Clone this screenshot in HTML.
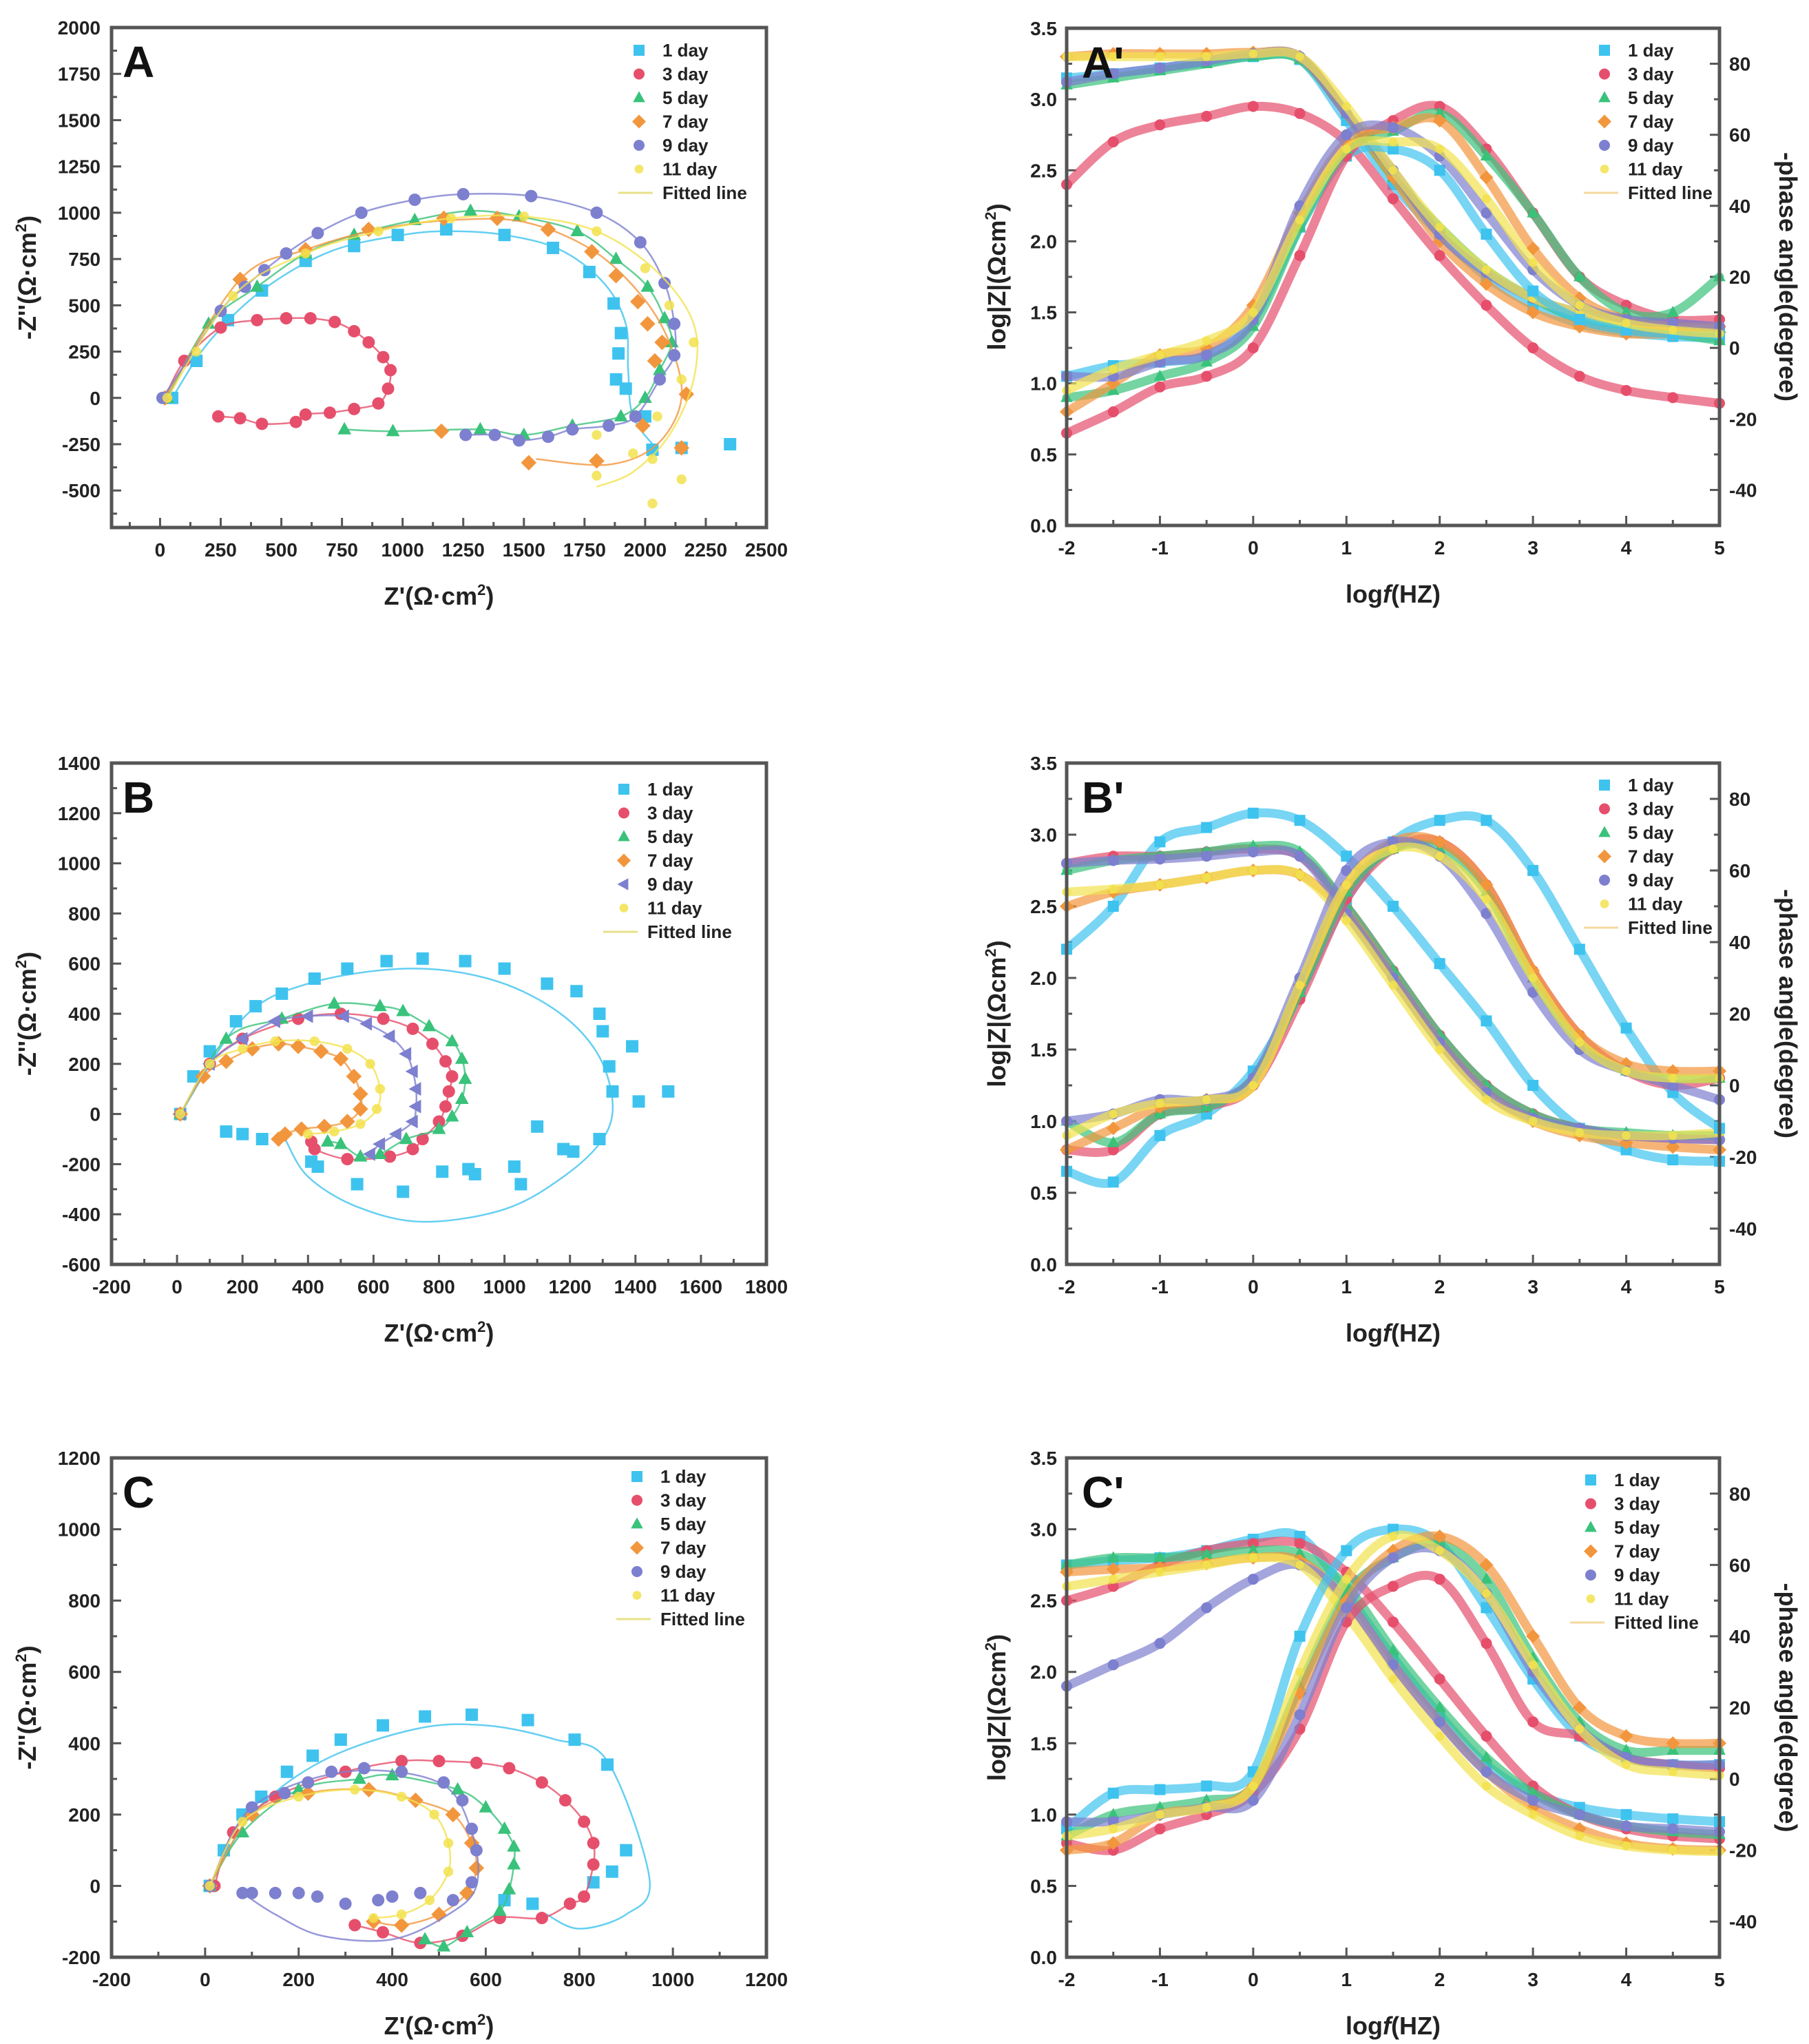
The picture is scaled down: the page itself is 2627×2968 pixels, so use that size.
<!DOCTYPE html>
<html><head><meta charset="utf-8"><style>
html,body{margin:0;padding:0;background:#fff}
svg{display:block}
text{font-family:"Liberation Sans",Arial,sans-serif}
</style></head><body>
<svg id="fig" xmlns="http://www.w3.org/2000/svg" width="2627" height="2968" viewBox="0 0 2627 2968"></svg>
<script>
// ---------- Nyquist data (Z', -Z'') ----------
const A_1d=[[50,0],[150,200],[280,420],[420,580],[600,740],[800,820],[980,880],[1180,910],[1420,880],[1620,810],[1770,680],[1870,510],[1900,350],[1890,240],[1880,100],[1920,50],[2000,-100],[2030,-280],[2150,-270],[2350,-250]];
const A_3d=[[20,0],[100,200],[250,380],[400,420],[520,430],[620,430],[720,410],[800,360],[860,300],[920,220],[950,150],[940,50],[900,-30],[800,-60],[700,-80],[600,-90],[560,-130],[420,-140],[330,-110],[240,-100]];
const A_5d=[[30,0],[200,400],[400,600],[600,780],[800,880],[1050,960],[1280,1010],[1480,980],[1720,900],[1880,750],[2010,600],[2080,430],[2110,300],[2060,150],[2000,0],[1900,-100],[1700,-150],[1500,-200],[1320,-170],[960,-180],[760,-170]];
const A_7d=[[20,0],[330,640],[600,800],[860,910],[1170,970],[1390,970],[1600,910],[1780,790],[1880,660],[1970,520],[2010,400],[2070,300],[2040,200],[2170,20],[2150,-270],[1990,-150],[1800,-340],[1520,-350],[1160,-180]];
const A_9d=[[10,0],[250,470],[350,600],[430,690],[520,780],[650,890],[830,1000],[1050,1070],[1250,1100],[1530,1090],[1800,1000],[1980,840],[2080,620],[2120,400],[2120,230],[2060,100],[1960,-100],[1850,-150],[1700,-170],[1600,-210],[1480,-230],[1380,-200],[1260,-200]];
const A_11d=[[30,0],[150,250],[300,550],[600,780],[900,900],[1200,970],[1500,980],[1800,900],[2000,700],[2100,500],[2200,300],[2150,100],[2050,-100],[1950,-300],[1800,-420],[1800,-200],[2030,-330],[2150,-440],[2030,-570]];
const A_1d_fit=[[50,0],[200,300],[420,580],[700,790],[1000,880],[1200,900],[1420,880],[1650,800],[1830,620],[1920,400],[1930,150],[1950,-100],[2050,-280]];
const A_7d_fit=[[20,0],[330,640],[600,800],[900,910],[1200,960],[1500,950],[1780,800],[1980,560],[2100,300],[2150,0],[2050,-250],[1850,-360],[1550,-330]];
const A_11d_fit=[[30,0],[300,550],[600,780],[900,900],[1200,970],[1500,980],[1800,900],[2050,680],[2200,400],[2200,100],[2100,-200],[1950,-400],[1800,-480]];

const B_1d=[[10,0],[50,150],[100,250],[180,370],[240,430],[320,480],[420,540],[520,580],[640,610],[750,620],[880,610],[1000,580],[1130,520],[1220,490],[1290,400],[1300,330],[1320,190],[1330,90],[1410,50],[1500,90],[1390,270],[1290,-100],[1210,-150],[1180,-140],[1100,-50],[1030,-210],[1050,-280],[910,-240],[890,-220],[810,-230],[690,-310],[550,-280],[430,-210],[410,-190],[260,-100],[200,-80],[150,-70]];
const B_1d_fit=[[10,0],[200,380],[400,520],[700,580],[950,540],[1150,420],[1280,250],[1330,50],[1300,-100],[1180,-250],[1000,-380],[750,-430],[550,-370],[400,-250],[330,-100]];
const B_3d=[[10,0],[100,200],[200,300],[370,380],[500,400],[630,380],[720,340],[780,280],[820,210],[840,150],[830,90],[820,30],[800,-30],[750,-100],[720,-140],[650,-170],[520,-180],[420,-140],[410,-110]];
const B_5d=[[10,0],[150,300],[320,380],[480,440],[620,430],[690,410],[770,350],[840,290],[870,220],[880,140],[870,60],[840,-10],[800,-60],[700,-100],[620,-160],[560,-170],[500,-120],[460,-110]];
const B_7d=[[10,0],[80,150],[150,210],[230,260],[310,280],[370,270],[440,250],[500,220],[540,150],[560,80],[560,20],[520,-30],[450,-50],[380,-60],[330,-80],[310,-100]];
const B_9d=[[10,0],[100,200],[200,300],[300,370],[400,390],[510,390],[580,360],[650,310],[700,240],[720,170],[730,100],[730,30],[720,-30],[670,-80],[620,-120],[590,-160]];
const B_11d=[[10,0],[100,200],[200,260],[300,290],[420,290],[520,260],[590,200],[620,100],[610,20],[560,-40],[480,-70],[400,-80]];

const C_1d=[[10,0],[40,100],[80,200],[120,250],[175,320],[230,365],[290,410],[380,450],[470,475],[570,480],[690,465],[790,410],[860,340],[900,100],[870,40],[830,10],[700,-50],[640,-40]];
const C_1d_fit=[[10,0],[100,200],[250,350],[450,440],[600,450],[750,410],[860,350],[950,20],[900,-80],[800,-120],[730,-80]];
const C_3d=[[20,0],[60,150],[150,250],[300,320],[420,350],[500,350],[580,345],[650,330],[720,290],[770,240],[810,180],[830,120],[830,60],[810,-30],[780,-50],[720,-90],[630,-90],[550,-140],[460,-160],[380,-130],[320,-110]];
const C_5d=[[10,0],[80,150],[200,270],[330,300],[400,310],[540,270],[600,220],[640,160],[660,110],[660,60],[650,-10],[630,-70],[560,-130],[510,-170],[470,-150]];
const C_7d=[[10,0],[100,200],[220,260],[350,270],[450,240],[530,200],[570,120],[580,50],[560,-20],[500,-80],[420,-110],[360,-100]];
const C_9d=[[10,0],[100,220],[170,260],[220,290],[270,320],[340,330],[420,320],[510,290],[550,240],[570,160],[580,100],[570,10],[530,-40],[460,-20],[400,-30],[370,-40],[300,-50],[240,-30],[200,-20],[150,-20],[100,-20],[80,-20]];
const C_9d_fit=[[10,0],[100,220],[300,320],[500,290],[570,150],[580,0],[520,-80],[400,-150],[250,-140],[150,-80],[80,-20]];
const C_11d=[[10,0],[80,180],[200,250],[320,270],[420,250],[490,200],[520,120],[520,40],[480,-40],[420,-80],[360,-90]];

// ---------- Bode data ----------
const logF=[-2,-1.5,-1,-0.5,0,0.5,1,1.5,2,2.5,3,3.5,4,4.5,5];
const Ap_mag_1d=[3.15,3.18,3.22,3.26,3.3,3.28,2.85,2.4,2.05,1.75,1.55,1.42,1.36,1.33,1.32];
const Ap_mag_3d=[2.4,2.7,2.82,2.88,2.95,2.9,2.7,2.3,1.9,1.55,1.25,1.05,0.95,0.9,0.86];
const Ap_mag_5d=[3.1,3.15,3.2,3.25,3.3,3.28,2.9,2.45,2.1,1.8,1.6,1.45,1.38,1.35,1.3];
const Ap_mag_7d=[3.3,3.32,3.32,3.32,3.33,3.3,2.9,2.45,2.0,1.7,1.5,1.4,1.35,1.35,1.36];
const Ap_mag_9d=[3.12,3.18,3.22,3.27,3.32,3.3,2.9,2.5,2.05,1.78,1.6,1.5,1.45,1.42,1.4];
const Ap_mag_11d=[3.3,3.3,3.3,3.3,3.32,3.3,2.95,2.5,2.1,1.8,1.6,1.5,1.42,1.4,1.38];
const Ap_ph_1d=[-8,-5,-4,-2,8,34,54,56,50,32,16,8,5,4,4];
const Ap_ph_3d=[-24,-18,-11,-8,0,26,54,64,68,56,38,20,12,8,8];
const Ap_ph_5d=[-14,-12,-8,-4,6,34,56,61,66,54,38,20,10,10,20];
const Ap_ph_7d=[-18,-10,-2,0,12,38,58,62,64,48,28,14,8,6,6];
const Ap_ph_9d=[-8,-8,-4,-2,8,40,60,62,54,38,22,12,8,7,6];
const Ap_ph_11d=[-12,-6,-2,2,10,36,56,58,56,42,24,12,7,5,4];

const Bp_mag_1d=[2.2,2.5,2.95,3.05,3.15,3.1,2.85,2.5,2.1,1.7,1.25,0.95,0.8,0.73,0.72];
const Bp_mag_3d=[2.8,2.85,2.85,2.88,2.9,2.85,2.5,2.05,1.6,1.25,1.05,0.95,0.9,0.88,0.87];
const Bp_mag_5d=[2.75,2.82,2.85,2.88,2.92,2.88,2.5,2.05,1.6,1.25,1.05,0.95,0.92,0.9,0.9];
const Bp_mag_7d=[2.5,2.6,2.65,2.7,2.75,2.72,2.45,2.0,1.55,1.2,1.0,0.9,0.85,0.82,0.8];
const Bp_mag_9d=[2.8,2.82,2.83,2.85,2.88,2.85,2.45,2.0,1.55,1.2,1.02,0.95,0.9,0.88,0.87];
const Bp_mag_11d=[2.6,2.62,2.65,2.7,2.75,2.72,2.4,1.95,1.5,1.15,1.0,0.92,0.9,0.9,0.92];
const Bp_ph_1d=[-24,-27,-14,-8,4,26,52,68,74,74,60,38,16,-2,-12];
const Bp_ph_3d=[-18,-18,-8,-6,0,24,52,66,68,56,32,14,4,0,2];
const Bp_ph_5d=[-10,-16,-8,-6,2,26,54,66,66,54,30,12,4,2,2];
const Bp_ph_7d=[-18,-12,-6,-4,0,28,56,68,68,56,32,14,6,4,4];
const Bp_ph_9d=[-10,-8,-4,-4,2,30,60,68,64,48,26,10,4,0,-4];
const Bp_ph_11d=[-14,-8,-5,-4,0,28,56,66,64,52,30,12,4,2,2];

const Cp_mag_1d=[2.75,2.78,2.8,2.85,2.93,2.95,2.55,2.1,1.7,1.35,1.15,1.05,1.0,0.97,0.95];
const Cp_mag_3d=[2.5,2.6,2.75,2.85,2.9,2.9,2.7,2.35,1.95,1.55,1.2,1.0,0.9,0.85,0.83];
const Cp_mag_5d=[2.75,2.8,2.8,2.82,2.85,2.83,2.6,2.15,1.75,1.4,1.15,1.0,0.92,0.88,0.86];
const Cp_mag_7d=[2.7,2.72,2.73,2.76,2.8,2.78,2.5,2.05,1.65,1.3,1.05,0.9,0.8,0.76,0.75];
const Cp_mag_9d=[1.9,2.05,2.2,2.45,2.65,2.75,2.5,2.05,1.65,1.3,1.1,1.0,0.92,0.9,0.88];
const Cp_mag_11d=[2.6,2.65,2.7,2.75,2.8,2.75,2.4,1.95,1.55,1.2,1.0,0.85,0.78,0.75,0.74];
const Cp_ph_1d=[-14,-4,-3,-2,2,40,64,70,66,48,28,12,6,4,4];
const Cp_ph_3d=[-18,-20,-14,-10,-4,14,44,54,56,38,16,12,6,4,3];
const Cp_ph_5d=[-16,-10,-8,-6,-2,26,52,62,66,56,34,16,8,8,8];
const Cp_ph_7d=[-20,-18,-10,-8,-2,24,50,64,68,60,40,20,12,10,10];
const Cp_ph_9d=[-12,-12,-10,-8,-6,18,48,62,64,52,30,14,6,4,4];
const Cp_ph_11d=[-16,-14,-10,-8,-2,30,56,68,64,52,32,14,4,2,1];

const legendLabels=["1 day","3 day","5 day","7 day","9 day","11 day","Fitted line"];
const nyqXTicksA=[0,250,500,750,1000,1250,1500,1750,2000,2250,2500];
const nyqYTicksA=[-500,-250,0,250,500,750,1000,1250,1500,1750,2000];
const nyqXTicksB=[-200,0,200,400,600,800,1000,1200,1400,1600,1800];
const nyqYTicksB=[-600,-400,-200,0,200,400,600,800,1000,1200,1400];
const nyqXTicksC=[-200,0,200,400,600,800,1000,1200];
const nyqYTicksC=[-200,0,200,400,600,800,1000,1200];
const bodeXTicks=[-2,-1,0,1,2,3,4,5];
const bodeYTicks=[0,0.5,1,1.5,2,2.5,3,3.5];
const bodePhTicks=[-40,-20,0,20,40,60,80];

// ---------- rendering ----------
const NS="http://www.w3.org/2000/svg";
const svg=document.getElementById('fig');
const COLORS=["#3ec3ef","#e64f6c","#39c27a","#f2963d","#7d7fcf","#f2e24e"];
function el(tag,attrs,parent){const e=document.createElementNS(NS,tag);for(const k in attrs)e.setAttribute(k,attrs[k]);(parent||svg).appendChild(e);return e;}
function marker(g,shape,x,y,r,c){
  let m;
  if(shape==="square")m=el('rect',{x:x-r,y:y-r,width:2*r,height:2*r,fill:c},g);
  else if(shape==="circle")m=el('circle',{cx:x,cy:y,r:r,fill:c},g);
  else if(shape==="triangle")m=el('polygon',{points:`${x},${y-r*1.2} ${x-r*1.1},${y+r*0.8} ${x+r*1.1},${y+r*0.8}`,fill:c},g);
  else if(shape==="diamond")m=el('polygon',{points:`${x},${y-r*1.25} ${x+r*1.25},${y} ${x},${y+r*1.25} ${x-r*1.25},${y}`,fill:c},g);
  else if(shape==="tleft")m=el('polygon',{points:`${x-r*1.2},${y} ${x+r*0.8},${y-r*1.1} ${x+r*0.8},${y+r*1.1}`,fill:c},g);
  else m=el('circle',{cx:x,cy:y,r:r*0.8,fill:c,opacity:0.85},g);
  
  
  return m;
}
function txt(x,y,s,opt,parent){const t=el('text',Object.assign({x:x,y:y,'font-size':28,'font-weight':'bold',fill:'#222'},opt||{}),parent);t.textContent=s;return t;}
// smooth Catmull-Rom path through screen points
function smoothD(pts,sx,sy){
  const P=pts.map(p=>[sx(p[0]),sy(p[1])]);
  let d='M'+P[0][0].toFixed(1)+','+P[0][1].toFixed(1);
  for(let i=0;i<P.length-1;i++){
    const p0=P[Math.max(0,i-1)],p1=P[i],p2=P[i+1],p3=P[Math.min(P.length-1,i+2)];
    const c1=[p1[0]+(p2[0]-p0[0])/6,p1[1]+(p2[1]-p0[1])/6];
    const c2=[p2[0]-(p3[0]-p1[0])/6,p2[1]-(p3[1]-p1[1])/6];
    d+=` C${c1[0].toFixed(1)},${c1[1].toFixed(1)} ${c2[0].toFixed(1)},${c2[1].toFixed(1)} ${p2[0].toFixed(1)},${p2[1].toFixed(1)}`;
  }
  return d;
}

function frame(g,L,T,R,B){
  const f=el('rect',{x:L,y:T,width:R-L,height:B-T,fill:'none',stroke:'#555',"stroke-width":5},g);
  
  
}

function legend(g,x,y,shapes,lineColor){
  const lg=el('g',{},g);
  
  
  for(let i=0;i<7;i++){
    const yy=y+i*34.5;
    if(i<6)marker(lg,shapes[i],x,yy,8,COLORS[i]);
    else el('line',{x1:x-30,y1:yy,x2:x+20,y2:yy,stroke:lineColor,"stroke-width":3},lg);
    const t=txt(x+34,yy+9,legendLabels[i],{'font-size':26},lg);
    
    
  }
}

function nyquist(cfg){
  const g=el('g',{});
  
  
  const {L,T,R,B,xmin,xmax,ymin,ymax}=cfg;
  const sx=v=>L+(v-xmin)/(xmax-xmin)*(R-L);
  const sy=v=>B-(v-ymin)/(ymax-ymin)*(B-T);
  const xs=cfg.xt, ys=cfg.yt, xstep=xs[1]-xs[0], ystep=ys[1]-ys[0];
  xs.forEach(v=>{
    el('line',{x1:sx(v),y1:B,x2:sx(v),y2:B-14,stroke:'#555',"stroke-width":3},g);
    if(v+xstep/2<xmax)el('line',{x1:sx(v+xstep/2),y1:B,x2:sx(v+xstep/2),y2:B-8,stroke:'#555',"stroke-width":3},g);
    const t=txt(sx(v),B+42,String(v),{'text-anchor':'middle'},g);
    
  });
  if(xs[0]-xstep/2>xmin)el('line',{x1:sx(xs[0]-xstep/2),y1:B,x2:sx(xs[0]-xstep/2),y2:B-8,stroke:'#555',"stroke-width":3},g);
  ys.forEach(v=>{
    el('line',{x1:L,y1:sy(v),x2:L+14,y2:sy(v),stroke:'#555',"stroke-width":3},g);
    if(v+ystep/2<ymax)el('line',{x1:L,y1:sy(v+ystep/2),x2:L+8,y2:sy(v+ystep/2),stroke:'#555',"stroke-width":3},g);
    const t=txt(L-16,sy(v)+10,String(v),{'text-anchor':'end'},g);
    
  });
  if(ys[0]-ystep/2>ymin)el('line',{x1:L,y1:sy(ys[0]-ystep/2),x2:L+8,y2:sy(ys[0]-ystep/2),stroke:'#555',"stroke-width":3},g);
  cfg.series.forEach((s,i)=>{
    const sg=el('g',{},g);
    
    
    const fit=(cfg.fits&&cfg.fits[i])||s;
    el('path',{d:smoothD(fit,sx,sy),fill:'none',stroke:COLORS[i],"stroke-width":2.5,opacity:0.8},sg);
    s.forEach(p=>marker(sg,cfg.shapes[i],sx(p[0]),sy(p[1]),9,COLORS[i]));
  });
  frame(g,L,T,R,B);
  legend(g,cfg.legX,cfg.legY,cfg.shapes,'#e8e08a');
  const pl=el('text',{x:L+16,y:T+72,'font-size':64,'font-weight':'bold','font-family':'"Liberation Serif",serif',fill:'#111'},g);
  pl.textContent=cfg.letter;
  
  const xt=el('text',{x:(L+R)/2,y:B+112,'font-size':36,'font-weight':'bold','text-anchor':'middle',fill:'#222'},g);
  xt.innerHTML='Z\'(Ω·cm<tspan dy="-14" font-size="22">2</tspan><tspan dy="14">)</tspan>';
  
  const yt=el('text',{x:0,y:0,transform:`translate(52,${(T+B)/2}) rotate(-90)`,'font-size':36,'font-weight':'bold','text-anchor':'middle',fill:'#222'},g);
  yt.innerHTML='-Z\'\'(Ω·cm<tspan dy="-14" font-size="22">2</tspan><tspan dy="14">)</tspan>';
  
}

function bode(cfg){
  const g=el('g',{});
  
  
  const L=1549,R=2497,T=cfg.T,B=cfg.B;
  const sx=v=>L+(v+2)/7*(R-L);
  const sy=v=>B-v/3.5*(B-T);
  const sp=v=>B-(v+50)/140*(B-T);
  bodeXTicks.forEach(v=>{
    el('line',{x1:sx(v),y1:B,x2:sx(v),y2:B-14,stroke:'#555',"stroke-width":3},g);
    if(v<5)el('line',{x1:sx(v+0.5),y1:B,x2:sx(v+0.5),y2:B-8,stroke:'#555',"stroke-width":3},g);
    const t=txt(sx(v),B+42,String(v),{'text-anchor':'middle'},g);
    
  });
  bodeYTicks.forEach(v=>{
    el('line',{x1:L,y1:sy(v),x2:L+14,y2:sy(v),stroke:'#555',"stroke-width":3},g);
    if(v<3.5)el('line',{x1:L,y1:sy(v+0.25),x2:L+8,y2:sy(v+0.25),stroke:'#555',"stroke-width":3},g);
    const t=txt(L-14,sy(v)+10,v.toFixed(1),{'text-anchor':'end'},g);
    
  });
  bodePhTicks.forEach(v=>{
    el('line',{x1:R,y1:sp(v),x2:R-14,y2:sp(v),stroke:'#555',"stroke-width":3},g);
    el('line',{x1:R,y1:sp(v+10),x2:R-8,y2:sp(v+10),stroke:'#555',"stroke-width":3},g);
    const t=txt(R+14,sp(v)+10,String(v),{'text-anchor':'start'},g);
    
  });
  const drawSet=(set,scaleY,kind)=>set.forEach((arr,i)=>{
    const sg=el('g',{},g);
    
    
    const pts=logF.map((f,j)=>[f,arr[j]]);
    el('path',{d:smoothD(pts,sx,scaleY),fill:'none',stroke:COLORS[i],"stroke-width":13,opacity:0.7,"stroke-linecap":"round"},sg);
    pts.forEach(p=>marker(sg,cfg.shapes[i],sx(p[0]),scaleY(p[1]),8,COLORS[i]));
  });
  drawSet(cfg.mag,sy,'mag');
  drawSet(cfg.ph,sp,'phase');
  frame(g,L,T,R,B);
  legend(g,cfg.legX,T+32,cfg.shapes,'#f3d9a0');
  const pl=el('text',{x:L+22,y:T+72,'font-size':64,'font-weight':'bold','font-family':'"Liberation Serif",serif',fill:'#111'},g);
  pl.textContent=cfg.letter;
  
  const xt=el('text',{x:(L+R)/2,y:B+112,'font-size':36,'font-weight':'bold','text-anchor':'middle',fill:'#222'},g);
  xt.innerHTML='log<tspan font-style="italic">f</tspan>(HZ)';
  
  const yt=el('text',{x:0,y:0,transform:`translate(1460,${(T+B)/2}) rotate(-90)`,'font-size':36,'font-weight':'bold','text-anchor':'middle',fill:'#222'},g);
  yt.innerHTML='log|Z|(Ωcm<tspan dy="-14" font-size="22">2</tspan><tspan dy="14">)</tspan>';
  
  const rt=el('text',{x:0,y:0,transform:`translate(2584,${(T+B)/2}) rotate(90)`,'font-size':36,'font-weight':'bold','text-anchor':'middle',fill:'#222'},g);
  rt.textContent='-phase angle(degree)';
  
}

const shp=["square","circle","triangle","diamond","circle","star"];
const shpB=["square","circle","triangle","diamond","tleft","star"];
nyquist({name:'panel-A-nyquist',letter:'A',L:162,T:40,R:1113,B:766,xmin:-200,xmax:2500,ymin:-700,ymax:2000,xt:nyqXTicksA,yt:nyqYTicksA,
  series:[A_1d,A_3d,A_5d,A_7d,A_9d,A_11d],fits:[A_1d_fit,null,null,A_7d_fit,null,A_11d_fit],shapes:shp,legX:928,legY:73});
nyquist({name:'panel-B-nyquist',letter:'B',L:162,T:1108,R:1113,B:1836,xmin:-200,xmax:1800,ymin:-600,ymax:1400,xt:nyqXTicksB,yt:nyqYTicksB,
  series:[B_1d,B_3d,B_5d,B_7d,B_9d,B_11d],fits:[B_1d_fit],shapes:shpB,legX:906,legY:1146});
nyquist({name:'panel-C-nyquist',letter:'C',L:162,T:2117,R:1113,B:2842,xmin:-200,xmax:1200,ymin:-200,ymax:1200,xt:nyqXTicksC,yt:nyqYTicksC,
  series:[C_1d,C_3d,C_5d,C_7d,C_9d,C_11d],fits:[C_1d_fit,null,null,null,C_9d_fit],shapes:shp,legX:925,legY:2144});
bode({name:'panel-A-bode',letter:"A'",T:41,B:763,mag:[Ap_mag_1d,Ap_mag_3d,Ap_mag_5d,Ap_mag_7d,Ap_mag_9d,Ap_mag_11d],ph:[Ap_ph_1d,Ap_ph_3d,Ap_ph_5d,Ap_ph_7d,Ap_ph_9d,Ap_ph_11d],shapes:shp,legX:2330});
bode({name:'panel-B-bode',letter:"B'",T:1108,B:1836,mag:[Bp_mag_1d,Bp_mag_3d,Bp_mag_5d,Bp_mag_7d,Bp_mag_9d,Bp_mag_11d],ph:[Bp_ph_1d,Bp_ph_3d,Bp_ph_5d,Bp_ph_7d,Bp_ph_9d,Bp_ph_11d],shapes:shp,legX:2330});
bode({name:'panel-C-bode',letter:"C'",T:2117,B:2842,mag:[Cp_mag_1d,Cp_mag_3d,Cp_mag_5d,Cp_mag_7d,Cp_mag_9d,Cp_mag_11d],ph:[Cp_ph_1d,Cp_ph_3d,Cp_ph_5d,Cp_ph_7d,Cp_ph_9d,Cp_ph_11d],shapes:shp,legX:2310});
</script>
</body></html>
